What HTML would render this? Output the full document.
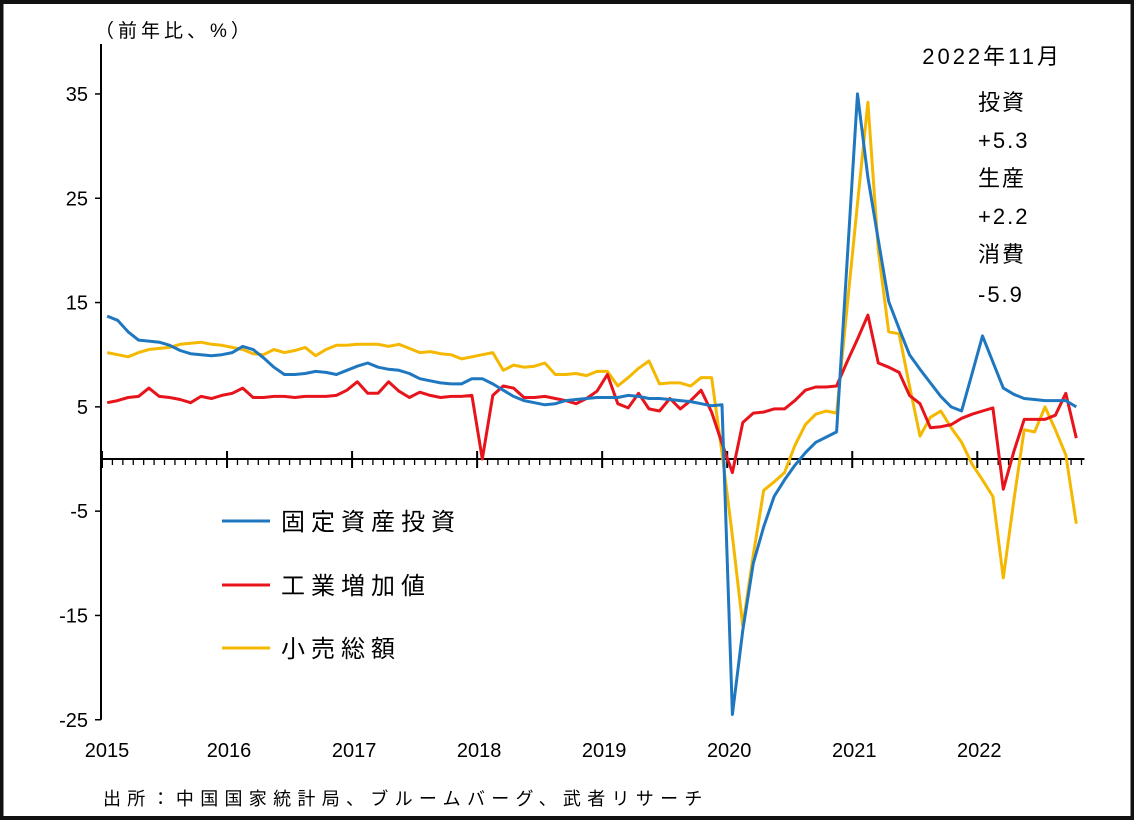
<!DOCTYPE html>
<html><head><meta charset="utf-8"><style>
html,body{margin:0;padding:0;background:#fff;}
#wrap{position:relative;width:1134px;height:820px;overflow:hidden;}
svg{position:absolute;left:0;top:0;}
text{font-family:"Liberation Sans","Noto Sans CJK JP",sans-serif;fill:#000;}
</style></head><body>
<div id="wrap">
<svg id="chart" width="1134" height="820" viewBox="0 0 1134 820">
<rect x="1.5" y="2" width="1131" height="816" fill="#fff" stroke="#111" stroke-width="4"/>
<text x="95" y="37" font-size="19" letter-spacing="4">（前年比、%）</text>
<text x="1062" y="64" font-size="22" letter-spacing="3" text-anchor="end">2022年11月</text>
<g font-size="22" letter-spacing="2">
<text x="978" y="110">投資</text>
<text x="978" y="148">+5.3</text>
<text x="978" y="186">生産</text>
<text x="978" y="224">+2.2</text>
<text x="978" y="262">消費</text>
<text x="978" y="302">-5.9</text>
</g>
<g>
<g><line x1="222" y1="521" x2="270" y2="521" stroke="#1f77c0" stroke-width="3"/><text x="281" y="530" font-size="24" letter-spacing="6">固定資産投資</text></g>
<g><line x1="222" y1="585" x2="270" y2="585" stroke="#e8141c" stroke-width="3"/><text x="281" y="594" font-size="24" letter-spacing="6">工業増加値</text></g>
<g><line x1="222" y1="648" x2="270" y2="648" stroke="#f5b800" stroke-width="3"/><text x="281" y="657" font-size="24" letter-spacing="6">小売総額</text></g>
</g>
<text x="103" y="805" font-size="18" letter-spacing="6.3">出所：中国国家統計局、ブルームバーグ、武者リサーチ</text>
<g id="axes"></g>
<g id="series"></g>
</svg>
</div>
<script>
const years = ["2015","2016","2017","2018","2019","2020","2021","2022"];
const yTicks = [35,25,15,5,-5,-15,-25];
const investment = [13.7,13.3,12.2,11.4,11.3,11.2,10.9,10.4,10.1,10.0,9.9,10.0,
10.2,10.8,10.5,9.7,8.8,8.1,8.1,8.2,8.4,8.3,8.1,8.5,
8.9,9.2,8.8,8.6,8.5,8.2,7.7,7.5,7.3,7.2,7.2,7.7,
7.7,7.2,6.6,6.0,5.6,5.4,5.2,5.3,5.6,5.7,5.8,5.9,
5.9,5.9,6.1,6.0,5.8,5.8,5.7,5.6,5.5,5.3,5.1,5.2,
-24.5,-16.4,-10.0,-6.5,-3.6,-2.0,-0.6,0.6,1.6,2.1,2.6,18.8,
35.0,27.0,21.0,15.1,12.5,10.0,8.6,7.3,6.0,5.0,4.6,8.2,
11.8,9.3,6.8,6.2,5.8,5.7,5.6,5.6,5.6,5.0];
const production = [5.4,5.6,5.9,6.0,6.8,6.0,5.9,5.7,5.4,6.0,5.8,6.1,
6.3,6.8,5.9,5.9,6.0,6.0,5.9,6.0,6.0,6.0,6.1,6.6,
7.4,6.3,6.3,7.4,6.5,5.9,6.4,6.1,5.9,6.0,6.0,6.1,
0.0,6.1,7.0,6.8,5.9,5.9,6.0,5.8,5.6,5.3,5.8,6.5,
8.1,5.3,4.9,6.3,4.8,4.6,5.8,4.8,5.6,6.6,4.5,1.5,
-1.3,3.5,4.4,4.5,4.8,4.8,5.6,6.6,6.9,6.9,7.0,9.3,
11.5,13.8,9.2,8.8,8.3,6.1,5.3,3.0,3.1,3.3,3.9,4.3,
4.6,4.9,-2.9,0.7,3.8,3.8,3.8,4.2,6.3,2.0];
const retail = [10.2,10.0,9.8,10.2,10.5,10.6,10.7,11.0,11.1,11.2,11.0,10.9,
10.7,10.5,10.1,10.0,10.5,10.2,10.4,10.7,9.9,10.5,10.9,10.9,
11.0,11.0,11.0,10.8,11.0,10.6,10.2,10.3,10.1,10.0,9.6,9.8,
10.0,10.2,8.5,9.0,8.8,8.9,9.2,8.1,8.1,8.2,8.0,8.4,
8.4,7.0,7.8,8.7,9.4,7.2,7.3,7.3,7.0,7.8,7.8,0.6,
-7.4,-16.0,-9.2,-3.0,-2.2,-1.3,1.3,3.3,4.3,4.6,4.4,14.5,
24.5,34.2,20.0,12.2,12.0,7.0,2.2,4.0,4.6,3.0,1.6,-0.5,
-2.0,-3.6,-11.4,-4.0,2.8,2.6,5.0,2.8,0.4,-6.2];

const NS='http://www.w3.org/2000/svg';
const X0=102, STEP=10.42, Y0=459, PER=10.43;
function xPos(i){return X0+(i+0.5)*STEP;}
function xTick(i){return X0+i*STEP;}
function yPos(v){return Y0-v*PER;}
function mk(tag,attrs,parent){const e=document.createElementNS(NS,tag);for(const k in attrs)e.setAttribute(k,attrs[k]);parent.appendChild(e);return e;}
const axes=document.getElementById('axes');
let yAxis=mk('line',{x1:101,y1:44,x2:101,y2:yPos(-25),stroke:'#000','stroke-width':2},axes);


yTicks.forEach(v=>{
  const t=mk('line',{x1:95,y1:yPos(v),x2:101,y2:yPos(v),stroke:'#000','stroke-width':1.5},axes);
  
  
  const l=mk('text',{x:88,y:yPos(v)+7,'font-size':20,'text-anchor':'end'},axes);
  l.textContent=v;
  
  
});
const nMonths=investment.length;
let xAxis=mk('line',{x1:101,y1:Y0,x2:xTick(nMonths)+3,y2:Y0,stroke:'#000','stroke-width':2},axes);


for(let i=0;i<=nMonths;i++){
  const major=i%12===0;
  const t=mk('line',{x1:xTick(i),y1:major?Y0-8:Y0,x2:xTick(i),y2:Y0+(major?9:6),stroke:'#000','stroke-width':major?2:1.3},axes);
  
  
}
years.forEach((y,k)=>{
  const l=mk('text',{x:k===0?107:xTick(k*12)+2,y:757,'font-size':20,'text-anchor':'middle'},axes);
  l.textContent=y;
  
  
});
const ser=document.getElementById('series');
function drawLine(arr,color,name){
  const d=arr.map((v,i)=>(i?'L':'M')+xPos(i).toFixed(1)+' '+yPos(v).toFixed(1)).join(' ');
  const p=mk('path',{d:d,fill:'none',stroke:color,'stroke-width':3,'stroke-linejoin':'round'},ser);
  
  
}
drawLine(retail,'#f5b800','retail-sales-line');
drawLine(production,'#e8141c','industrial-production-line');
drawLine(investment,'#1f77c0','fixed-asset-investment-line');
</script>
</body></html>
